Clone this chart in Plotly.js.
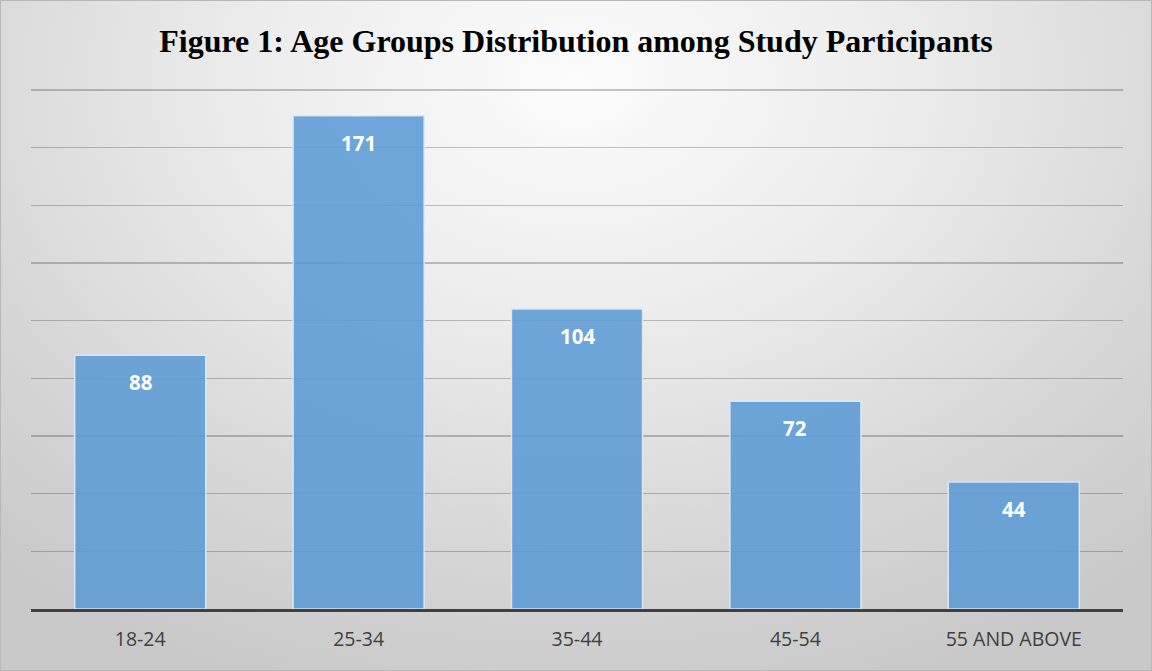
<!DOCTYPE html>
<html>
<head>
<meta charset="utf-8">
<script src="https://cdn.plot.ly/plotly-3.0.1.min.js"></script>
<style>
html,body{margin:0;padding:0;}
#chart{width:1152px;height:671px;box-sizing:border-box;border:1px solid #b8b8b8;
background:radial-gradient(ellipse 75% 95% at 50% 12%, #fcfcfc 0%, #ebebeb 40%, #d6d6d6 75%, #c9c9c9 100%);}
</style>
</head>
<body>
<div id="chart"></div>
<script>
const categories = ["18-24", "25-34", "35-44", "45-54", "55 AND ABOVE"];
const counts = [88, 171, 104, 72, 44];
const labels = counts.map(String);

const trace = {
  type: "bar",
  x: categories,
  y: counts,
  width: 0.6,
  marker: {color: "rgba(91,155,213,0.88)", line: {color: "rgba(222,235,247,0.9)", width: 1.5}},
  hoverinfo: "none"
};

const annotations = categories.map((c, i) => ({
  x: c, y: counts[i], xref: "x", yref: "y",
  text: "<b>" + labels[i] + "</b>", showarrow: false,
  yanchor: "middle", yshift: -27,
  font: {family: "Open Sans, sans-serif", size: 20.5, color: "#ffffff"}
}));

const layout = {
  width: 1150, height: 669,
  margin: {l: 30, r: 28, t: 86, b: 61},
  paper_bgcolor: "rgba(0,0,0,0)",
  plot_bgcolor: "rgba(0,0,0,0)",
  title: {
    text: "<b>Figure 1: Age Groups Distribution among Study Participants</b>",
    font: {family: "Liberation Serif, Times New Roman, serif", size: 32, color: "#000000"},
    x: 0.5, xanchor: "center", y: 0.94, yanchor: "middle"
  },
  bargap: 0.4,
  xaxis: {
    showgrid: false, zeroline: false,
    showline: true, linecolor: "#404040", linewidth: 3,
    ticks: "outside", ticklen: 11, tickcolor: "rgba(0,0,0,0)",
    tickfont: {family: "Open Sans, sans-serif", size: 19.5, color: "#404040"}
  },
  yaxis: {
    range: [0, 181], tickvals: [20, 40, 60, 80, 100, 120, 140, 160, 180], showticklabels: false,
    showgrid: true, gridcolor: "rgba(0,0,0,0.22)", gridwidth: 1.3,
    zeroline: false, showline: false, fixedrange: true
  },
  annotations: annotations,
  showlegend: false
};

Plotly.newPlot("chart", [trace], layout, {displayModeBar: false, staticPlot: true});
</script>
</body>
</html>
